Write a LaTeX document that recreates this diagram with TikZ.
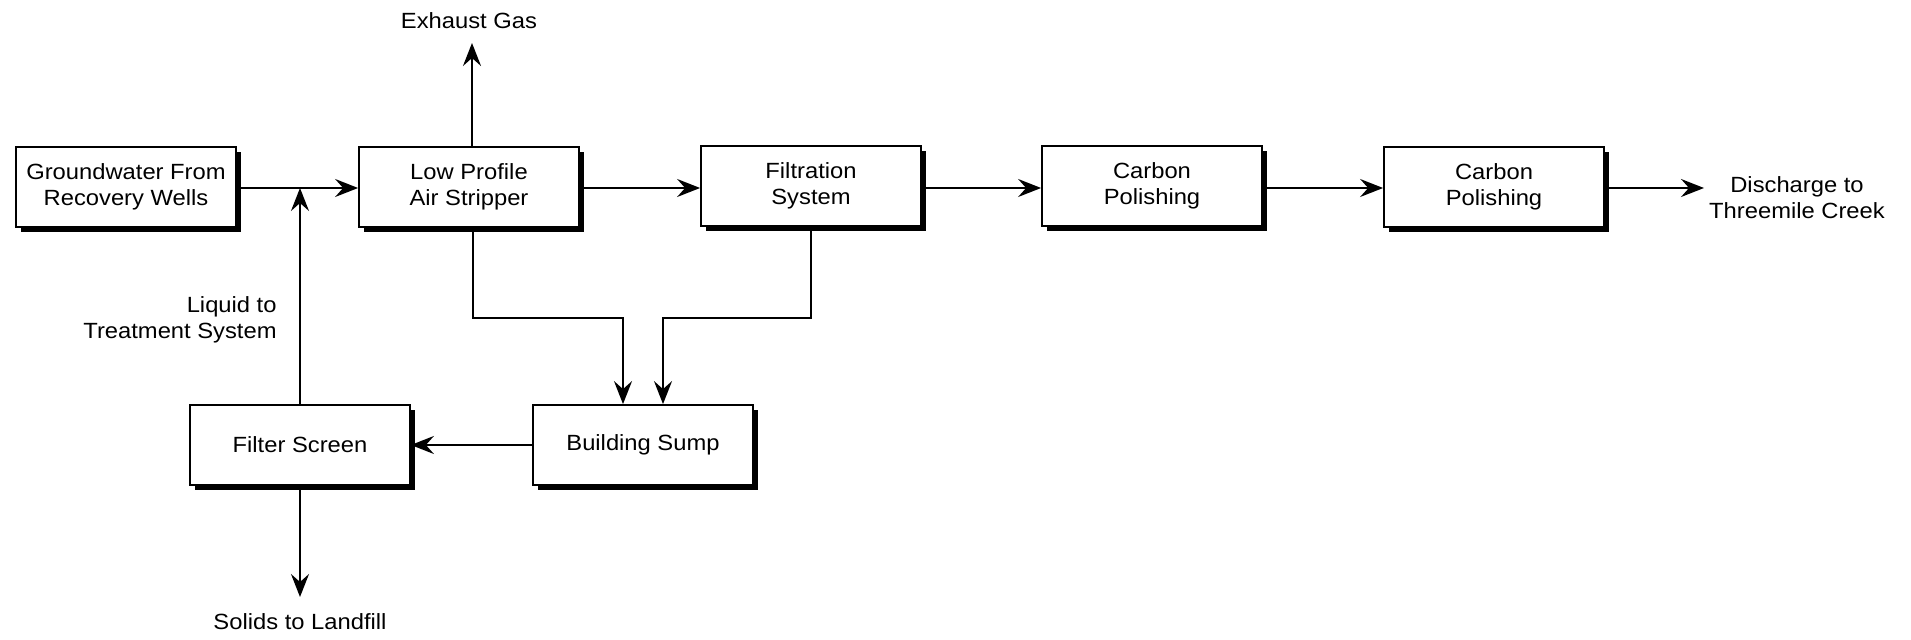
\documentclass[tikz,border=0pt]{standalone}
\usepackage{fontspec}
\setmainfont{Liberation Sans}[FakeStretch=1.08]
\usetikzlibrary{arrows.meta,shadows,calc}
\begin{document}
\begin{tikzpicture}[x=0.5pt,y=-0.5pt,
  font=\fontsize{11}{13}\selectfont,
  unit/.style={draw, line width=0.9pt, fill=white, minimum width=110pt, minimum height=40pt,
    align=center, inner sep=0pt,
    drop shadow={shadow xshift=2.4pt, shadow yshift=-2.6pt, fill=black, opacity=1}},
  flow/.style={line width=1pt, -{Stealth[length=11.5pt, width=9pt, inset=4pt]}},
  lbl/.style={align=center, inner sep=0pt}]
\path[use as bounding box] (0,0) rectangle (1911,640);

% process units
\node[unit] (gw)   at (126,187) {Groundwater From\\Recovery Wells};
\node[unit] (air)  at (469,187) {Low Profile\\Air Stripper};
\node[unit] (filt) at (811,186) {Filtration\\System};
\node[unit] (c1)   at (1152,186) {Carbon\\Polishing};
\node[unit] (c2)   at (1494,187) {Carbon\\Polishing};
\node[unit] (fs)   at (300,445) {Filter Screen};
\node[unit] (sump) at (643,445) {Building Sump};

% free labels
\node[lbl] (exh) at (469,21) {Exhaust Gas};
\node[lbl] (dis) at (1797,198) {Discharge to\\Threemile Creek};
\node[lbl, anchor=east, align=right] (liq) at (277,320) {Liquid to\\Treatment System};
\node[lbl] (sol) at (300,622) {Solids to Landfill};

% junction and routing points
\coordinate (j)    at (300,188);
\coordinate (exhT) at (472,43);
\coordinate (solT) at (300,597);
\coordinate (disT) at (1704,188);
\coordinate (ra)   at (473,318);
\coordinate (rf)   at (811,318);
\coordinate (sa)   at (623,405);
\coordinate (sf)   at (663,405);

% main treatment train
\draw[flow] (gw.east |- j) -- (air.west |- j);
\draw[flow] (air.east |- j) -- (filt.west |- j);
\draw[flow] (filt.east |- j) -- (c1.west |- j);
\draw[flow] (c1.east |- j) -- (c2.west |- j);
\draw[flow] (c2.east |- j) -- (disT);

% off-gas
\draw[flow] (air.north -| exhT) -- (exhT);

% drains to the sump
\draw[flow] (air.south -| ra) -- (ra) -| (sump.north -| sa);
\draw[flow] (filt.south -| rf) -- (rf) -| (sump.north -| sf);

% sump to screen, screen outputs
\draw[flow] (sump.west) -- (fs.east);
\draw[flow] (fs.north) -- (j);
\draw[flow] (fs.south) -- (solT);
\end{tikzpicture}
\end{document}
